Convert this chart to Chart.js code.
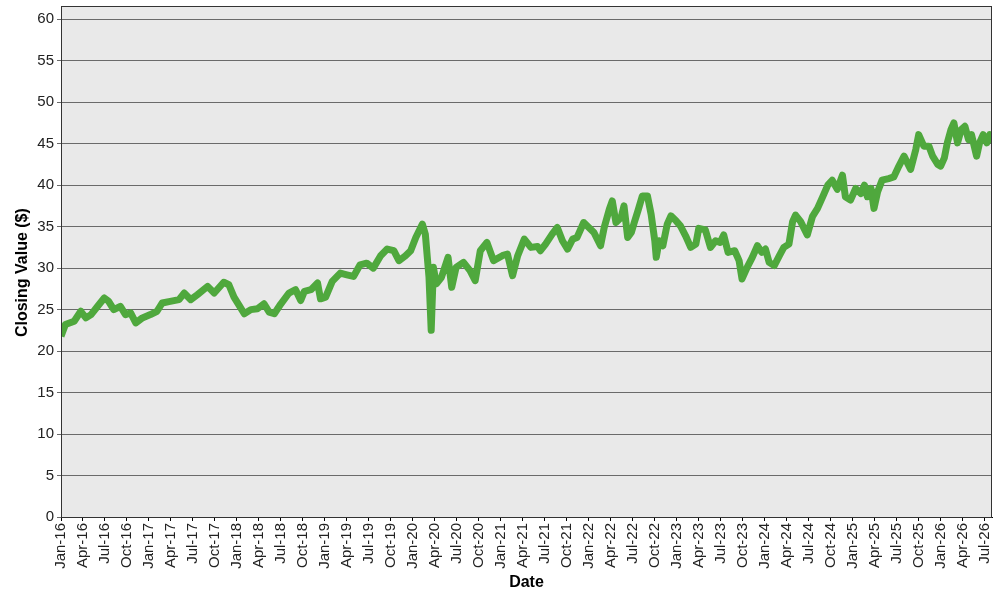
<!DOCTYPE html>
<html lang="en">
<head>
    <meta charset="UTF-8">
    <title>Closing Value</title>
    <script src="https://cdn.jsdelivr.net/npm/chart.js"></script>
    <style>
        body {
            margin: 0;
            background-color: white;
        }
        .chart-container {
            width: 1000px;
            height: 600px;
        }
    </style>
</head>
<body>
    <div class="chart-container">
        <canvas id="closingChart"></canvas>
    </div>

    <script>
        // x position = months since Jan 2016
        const monthPos = [
            0, 0.6, 1.8, 2.7, 3.4, 4.1, 5.0, 5.9, 6.5, 7.2, 8.1, 8.8, 9.5, 10.2, 11.1,
            12.2, 13.1, 13.8, 14.9, 16.1, 16.8, 17.7, 18.6, 20.0, 20.9, 22.2, 22.9,
            23.6, 24.3, 25.0, 25.9, 26.8, 27.7, 28.4, 29.1, 30.0, 31.1, 32.0, 32.7,
            33.2, 34.1, 35.0, 35.4, 36.1, 37.0, 38.1, 39.0, 39.9, 40.8, 41.7, 42.6,
            43.6, 44.5, 45.4, 46.1, 47.0, 47.7, 48.4, 49.3, 49.7, 50.2, 50.5, 50.8,
            51.2, 51.9, 52.8, 53.3, 53.9, 54.9, 55.8, 56.5, 57.2, 58.1, 59.0, 60.2,
            60.9, 61.6, 62.3, 63.2, 64.1, 65.0, 65.4, 66.1, 67.0, 67.7, 68.4, 69.1,
            69.8, 70.4, 71.3, 72.0, 72.7, 73.6, 74.1, 74.8, 75.2, 75.7, 76.4, 76.8,
            77.3, 77.8, 78.2, 78.7, 79.3, 80.0, 80.5, 81.0, 81.2, 81.6, 82.1, 82.7,
            83.2, 83.9, 84.5, 85.2, 85.9, 86.6, 87.0, 87.9, 88.6, 89.3, 89.9, 90.4,
            91.0, 91.9, 92.5, 92.9, 93.6, 94.3, 95.0, 95.6, 96.1, 96.6, 97.3, 98.0,
            98.6, 99.3, 99.8, 100.2, 100.9, 101.8, 102.5, 103.2, 103.9, 104.6, 105.2,
            105.9, 106.6, 107.0, 107.7, 108.4, 109.1, 109.6, 110.0, 110.5, 110.9,
            111.4, 112.0, 112.9, 113.6, 114.3, 115.0, 115.9, 116.6, 117.0, 117.7,
            118.4, 118.9, 119.6, 120.0, 120.5, 120.9, 121.4, 121.8, 122.3, 122.8,
            123.3, 123.8, 124.2, 124.9, 125.3, 125.8, 126.3, 126.7, 126.9
        ];

        const closingValues = [
            21.8, 23.2, 23.6, 24.8, 24.0, 24.4, 25.4, 26.4, 26.0, 25.0, 25.4, 24.4, 24.6, 23.4, 24.0,
            24.4, 24.8, 25.8, 26.0, 26.2, 27.0, 26.2, 26.8, 27.8, 27.0, 28.3, 28.0,
            26.5, 25.5, 24.5, 25.0, 25.1, 25.7, 24.7, 24.5, 25.7, 27.0, 27.4, 26.1,
            27.2, 27.4, 28.2, 26.3, 26.5, 28.4, 29.4, 29.2, 29.0, 30.4, 30.6, 30.0,
            31.5, 32.3, 32.1, 30.9, 31.5, 32.1, 33.7, 35.3, 34.1, 28.9, 22.5, 30.1,
            28.1, 28.9, 31.3, 27.7, 30.1, 30.7, 29.7, 28.5, 32.1, 33.1, 30.9, 31.5,
            31.7, 29.1, 31.5, 33.5, 32.5, 32.6, 32.1, 32.9, 34.1, 34.9, 33.3, 32.3,
            33.5, 33.7, 35.5, 34.9, 34.3, 32.7, 34.9, 37.1, 38.1, 35.5, 36.1, 37.5,
            33.7, 34.3, 35.5, 36.9, 38.7, 38.7, 36.5, 33.3, 31.3, 33.3, 32.7, 35.3,
            36.3, 35.7, 35.1, 33.9, 32.5, 32.9, 34.8, 34.6, 32.5, 33.3, 33.1, 34.0,
            31.9, 32.1, 30.9, 28.7, 30.1, 31.3, 32.7, 31.9, 32.3, 30.7, 30.3, 31.5,
            32.5, 32.9, 35.6, 36.4, 35.6, 34.0, 36.2, 37.2, 38.6, 40.0, 40.6,
            39.5, 41.2, 38.6, 38.2, 39.6, 39.0, 40.0, 38.6, 39.6, 37.2,
            39.2, 40.6, 40.8, 41.0, 42.3, 43.5, 41.9, 44.3, 46.1, 44.7,
            44.7, 43.5, 42.5, 42.3, 43.3, 45.1, 46.7, 47.5, 45.1, 46.7,
            47.1, 45.5, 46.1, 43.5, 45.1, 46.1, 45.1, 46.1, 45.1
        ];

        // one label every 3 months, starting Jan-16
        const tickLabels = [
            'Jan-16', 'Apr-16', 'Jul-16', 'Oct-16', 'Jan-17', 'Apr-17', 'Jul-17', 'Oct-17',
            'Jan-18', 'Apr-18', 'Jul-18', 'Oct-18', 'Jan-19', 'Apr-19', 'Jul-19', 'Oct-19',
            'Jan-20', 'Apr-20', 'Jul-20', 'Oct-20', 'Jan-21', 'Apr-21', 'Jul-21', 'Oct-21',
            'Jan-22', 'Apr-22', 'Jul-22', 'Oct-22', 'Jan-23', 'Apr-23', 'Jul-23', 'Oct-23',
            'Jan-24', 'Apr-24', 'Jul-24', 'Oct-24', 'Jan-25', 'Apr-25', 'Jul-25', 'Oct-25',
            'Jan-26', 'Apr-26', 'Jul-26'
        ];

        const yTicks = [0, 5, 10, 15, 20, 25, 30, 35, 40, 45, 50, 55, 60];

        const points = monthPos.map((m, i) => ({ x: m, y: closingValues[i] }));

        // grey plot background and frame
        const plotFrame = {
            id: 'plotFrame',
            beforeDraw(chart) {
                const { ctx, chartArea: a } = chart;
                ctx.save();
                ctx.fillStyle = '#e9e9e9';
                ctx.fillRect(a.left, a.top, a.right - a.left, a.bottom - a.top);
                ctx.restore();
            },
            afterDraw(chart) {
                const { ctx, chartArea: a } = chart;
                ctx.save();
                ctx.strokeStyle = '#333';
                ctx.lineWidth = 1;
                ctx.strokeRect(a.left + 0.5, a.top + 0.5, a.right - a.left - 1, a.bottom - a.top);
                ctx.restore();
            }
        };

        const tickFont = { family: "'Liberation Sans', Arial, sans-serif", size: 15 };
        const titleFont = { family: "'Liberation Sans', Arial, sans-serif", size: 16, weight: 'bold' };

        new Chart(document.getElementById('closingChart'), {
            type: 'line',
            data: {
                datasets: [{
                    label: 'Closing Value ($)',
                    data: points,
                    borderColor: '#4fa83d',
                    borderWidth: 7,
                    pointRadius: 0,
                    tension: 0,
                    borderJoinStyle: 'round'
                }]
            },
            options: {
                responsive: true,
                maintainAspectRatio: false,
                animation: false,
                layout: { padding: { top: 6, right: 8, left: 0, bottom: 0 } },
                plugins: {
                    legend: { display: false },
                    tooltip: { enabled: false }
                },
                scales: {
                    x: {
                        type: 'linear',
                        min: 0,
                        max: 127,
                        afterBuildTicks(scale) {
                            scale.ticks = tickLabels.map((t, i) => ({ value: i * 3 }));
                        },
                        afterFit(scale) {
                            scale.height = 83;
                            scale.paddingLeft = 0;
                            scale.paddingRight = 0;
                        },
                        border: { color: '#000' },
                        grid: {
                            drawOnChartArea: false,
                            tickLength: 4,
                            color: '#000'
                        },
                        ticks: {
                            autoSkip: false,
                            minRotation: 90,
                            maxRotation: 90,
                            padding: 2,
                            color: '#222',
                            font: tickFont,
                            callback: (v) => tickLabels[Math.round(v / 3)]
                        },
                        title: {
                            display: true,
                            text: 'Date',
                            color: '#000',
                            font: titleFont,
                            padding: { top: 0, bottom: 8 }
                        }
                    },
                    y: {
                        min: 0,
                        max: 61.6,
                        afterBuildTicks(scale) {
                            scale.ticks = yTicks.map(v => ({ value: v }));
                        },
                        afterFit(scale) {
                            scale.width = 61;
                            scale.paddingTop = 0;
                            scale.paddingBottom = 0;
                        },
                        border: { color: '#000' },
                        grid: {
                            tickLength: 4,
                            color: '#6a6a6a'
                        },
                        ticks: {
                            padding: 3,
                            color: '#222',
                            font: tickFont
                        },
                        title: {
                            display: true,
                            // trailing spaces nudge the rotated title down like the original
                            text: 'Closing Value ($)\u00a0\u00a0\u00a0\u00a0\u00a0',
                            color: '#000',
                            font: titleFont,
                            padding: { top: 13, bottom: 0 }
                        }
                    }
                }
            },
            plugins: [plotFrame]
        });
    </script>
</body>
</html>
